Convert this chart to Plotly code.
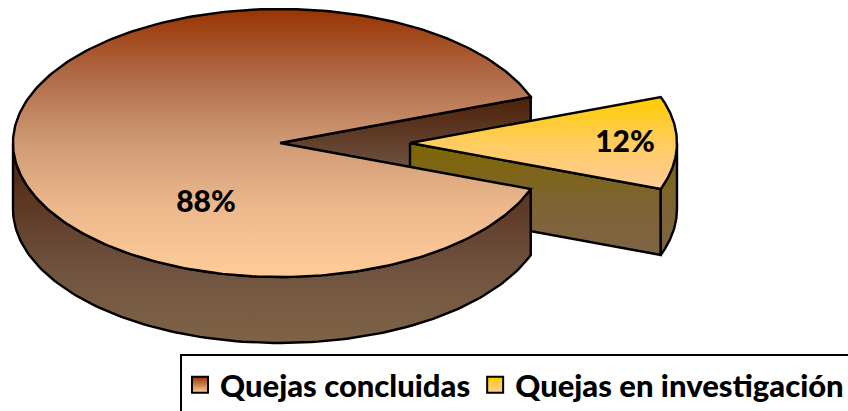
import numpy as np
import plotly.graph_objects as go

# Data
labels = ["Quejas concluidas", "Quejas en investigación"]
shares = [88, 12]

# Styles / geometry (pixels)
W, H = 848, 411
CX, CY, RX, RY, DEPTH, EXPLODE = 280, 143, 267, 134, 66, 130
ANGLE_SCALE = 0.93  # perspective squeeze of the wedge in the tilted ellipse
TOP = [
    [[0, "#993300"], [0.25, "#B06A48"], [0.5, "#CF9A75"], [0.75, "#EDB98D"], [1, "#FFCC99"]],
    [[0, "#FFCC00"], [0.5, "#FFCC60"], [1, "#FFCC99"]],
]
SIDE = [
    [[0, "#4D2008"], [0.4, "#62402C"], [0.65, "#705440"], [1, "#7F6347"]],
    [[0, "#7F6600"], [0.5, "#7D6430"], [1, "#7F6347"]],
]
LEGEND_COLS = [["#993300", "#FFCC99"], ["#FFCC00", "#FFCC99"]]
FONT = "Lato"

half_t = np.pi * shares[1] / 100 * ANGLE_SCALE  # yellow wedge is centred on the right


def arc(cx, a0, a1, dy=0, n=120):
    t = np.linspace(a0, a1, n)
    return list(cx + RX * np.cos(t)), list(CY - RY * np.sin(t) + dy)


fig = go.Figure()


def poly(xs, ys, cols, y0, y1):
    fig.add_trace(go.Scatter(
        x=xs + xs[:1], y=ys + ys[:1], mode="lines", fill="toself",
        line=dict(color="black", width=2.4), showlegend=False, hoverinfo="skip",
        fillgradient=dict(type="vertical", colorscale=cols, start=y0, stop=y1)))


def edge(a, cx):
    return cx + RX * np.cos(a), CY - RY * np.sin(a)


# large slice: back cut face (seen through the gap)
ex, ey = edge(half_t, CX)
poly([CX, ex, ex, CX], [CY, ey, ey + DEPTH, CY + DEPTH], SIDE[0], ey, CY + DEPTH)

# exploded slice
cx2 = CX + EXPLODE
lx, ly = edge(-half_t, cx2)
poly([cx2, lx, lx, cx2], [CY, ly, ly + DEPTH, CY + DEPTH], SIDE[1], CY, ly + DEPTH)
ax, ay = arc(cx2, -half_t, 0)
bx, by = arc(cx2, 0, -half_t, DEPTH)
poly(ax + bx, ay + by, SIDE[1], CY, ly + DEPTH)
ax, ay = arc(cx2, -half_t, half_t)
poly([cx2] + ax, [CY] + ay, TOP[1], CY - RY * np.sin(half_t), ly)

# large slice: front wall
ax, ay = arc(CX, np.pi, 2 * np.pi - half_t)
bx, by = arc(CX, 2 * np.pi - half_t, np.pi, DEPTH)
poly(ax + bx, ay + by, SIDE[0], CY, CY + RY + DEPTH)

# large slice: top
ax, ay = arc(CX, half_t, 2 * np.pi - half_t, n=300)
poly([CX] + ax, [CY] + ay, TOP[0], CY - RY, CY + RY)

# percentage labels
fig.add_trace(go.Scatter(
    x=[206, 625], y=[204.5, 144], mode="text",
    text=[f"{v}%" for v in shares], showlegend=False, hoverinfo="skip",
    textfont=dict(family=FONT, size=30, color="black", weight=900)))

# legend entries
for name, cols in zip(labels, LEGEND_COLS):
    fig.add_trace(go.Scatter(
        x=[None], y=[None], mode="markers", name=name,
        marker=dict(symbol="square", size=16, color=cols[0],
                    gradient=dict(type="vertical", color=cols[1]),
                    line=dict(color="black", width=2))))

fig.update_layout(
    width=W, height=H, autosize=False,
    margin=dict(l=0, r=0, t=0, b=0, autoexpand=False),
    paper_bgcolor="white", plot_bgcolor="white",
    xaxis=dict(range=[0, W], visible=False, fixedrange=True),
    yaxis=dict(range=[H, 0], visible=False, fixedrange=True),
    legend=dict(orientation="h", x=180 / W, y=1 - 358 / H, xanchor="left", yanchor="top",
                font=dict(family=FONT, size=31, color="black", weight=900),
                bgcolor="rgba(0,0,0,0)", traceorder="normal",
                itemclick=False, itemdoubleclick=False),
    shapes=[dict(type="rect", xref="x", yref="y", x0=181, x1=860, y0=355, y1=425,
                 line=dict(color="black", width=2), fillcolor="rgba(0,0,0,0)")],
)
fig.write_html("out.html", config={"displayModeBar": False},
               post_script="document.body.style.margin='0';document.body.style.overflow='hidden';")
